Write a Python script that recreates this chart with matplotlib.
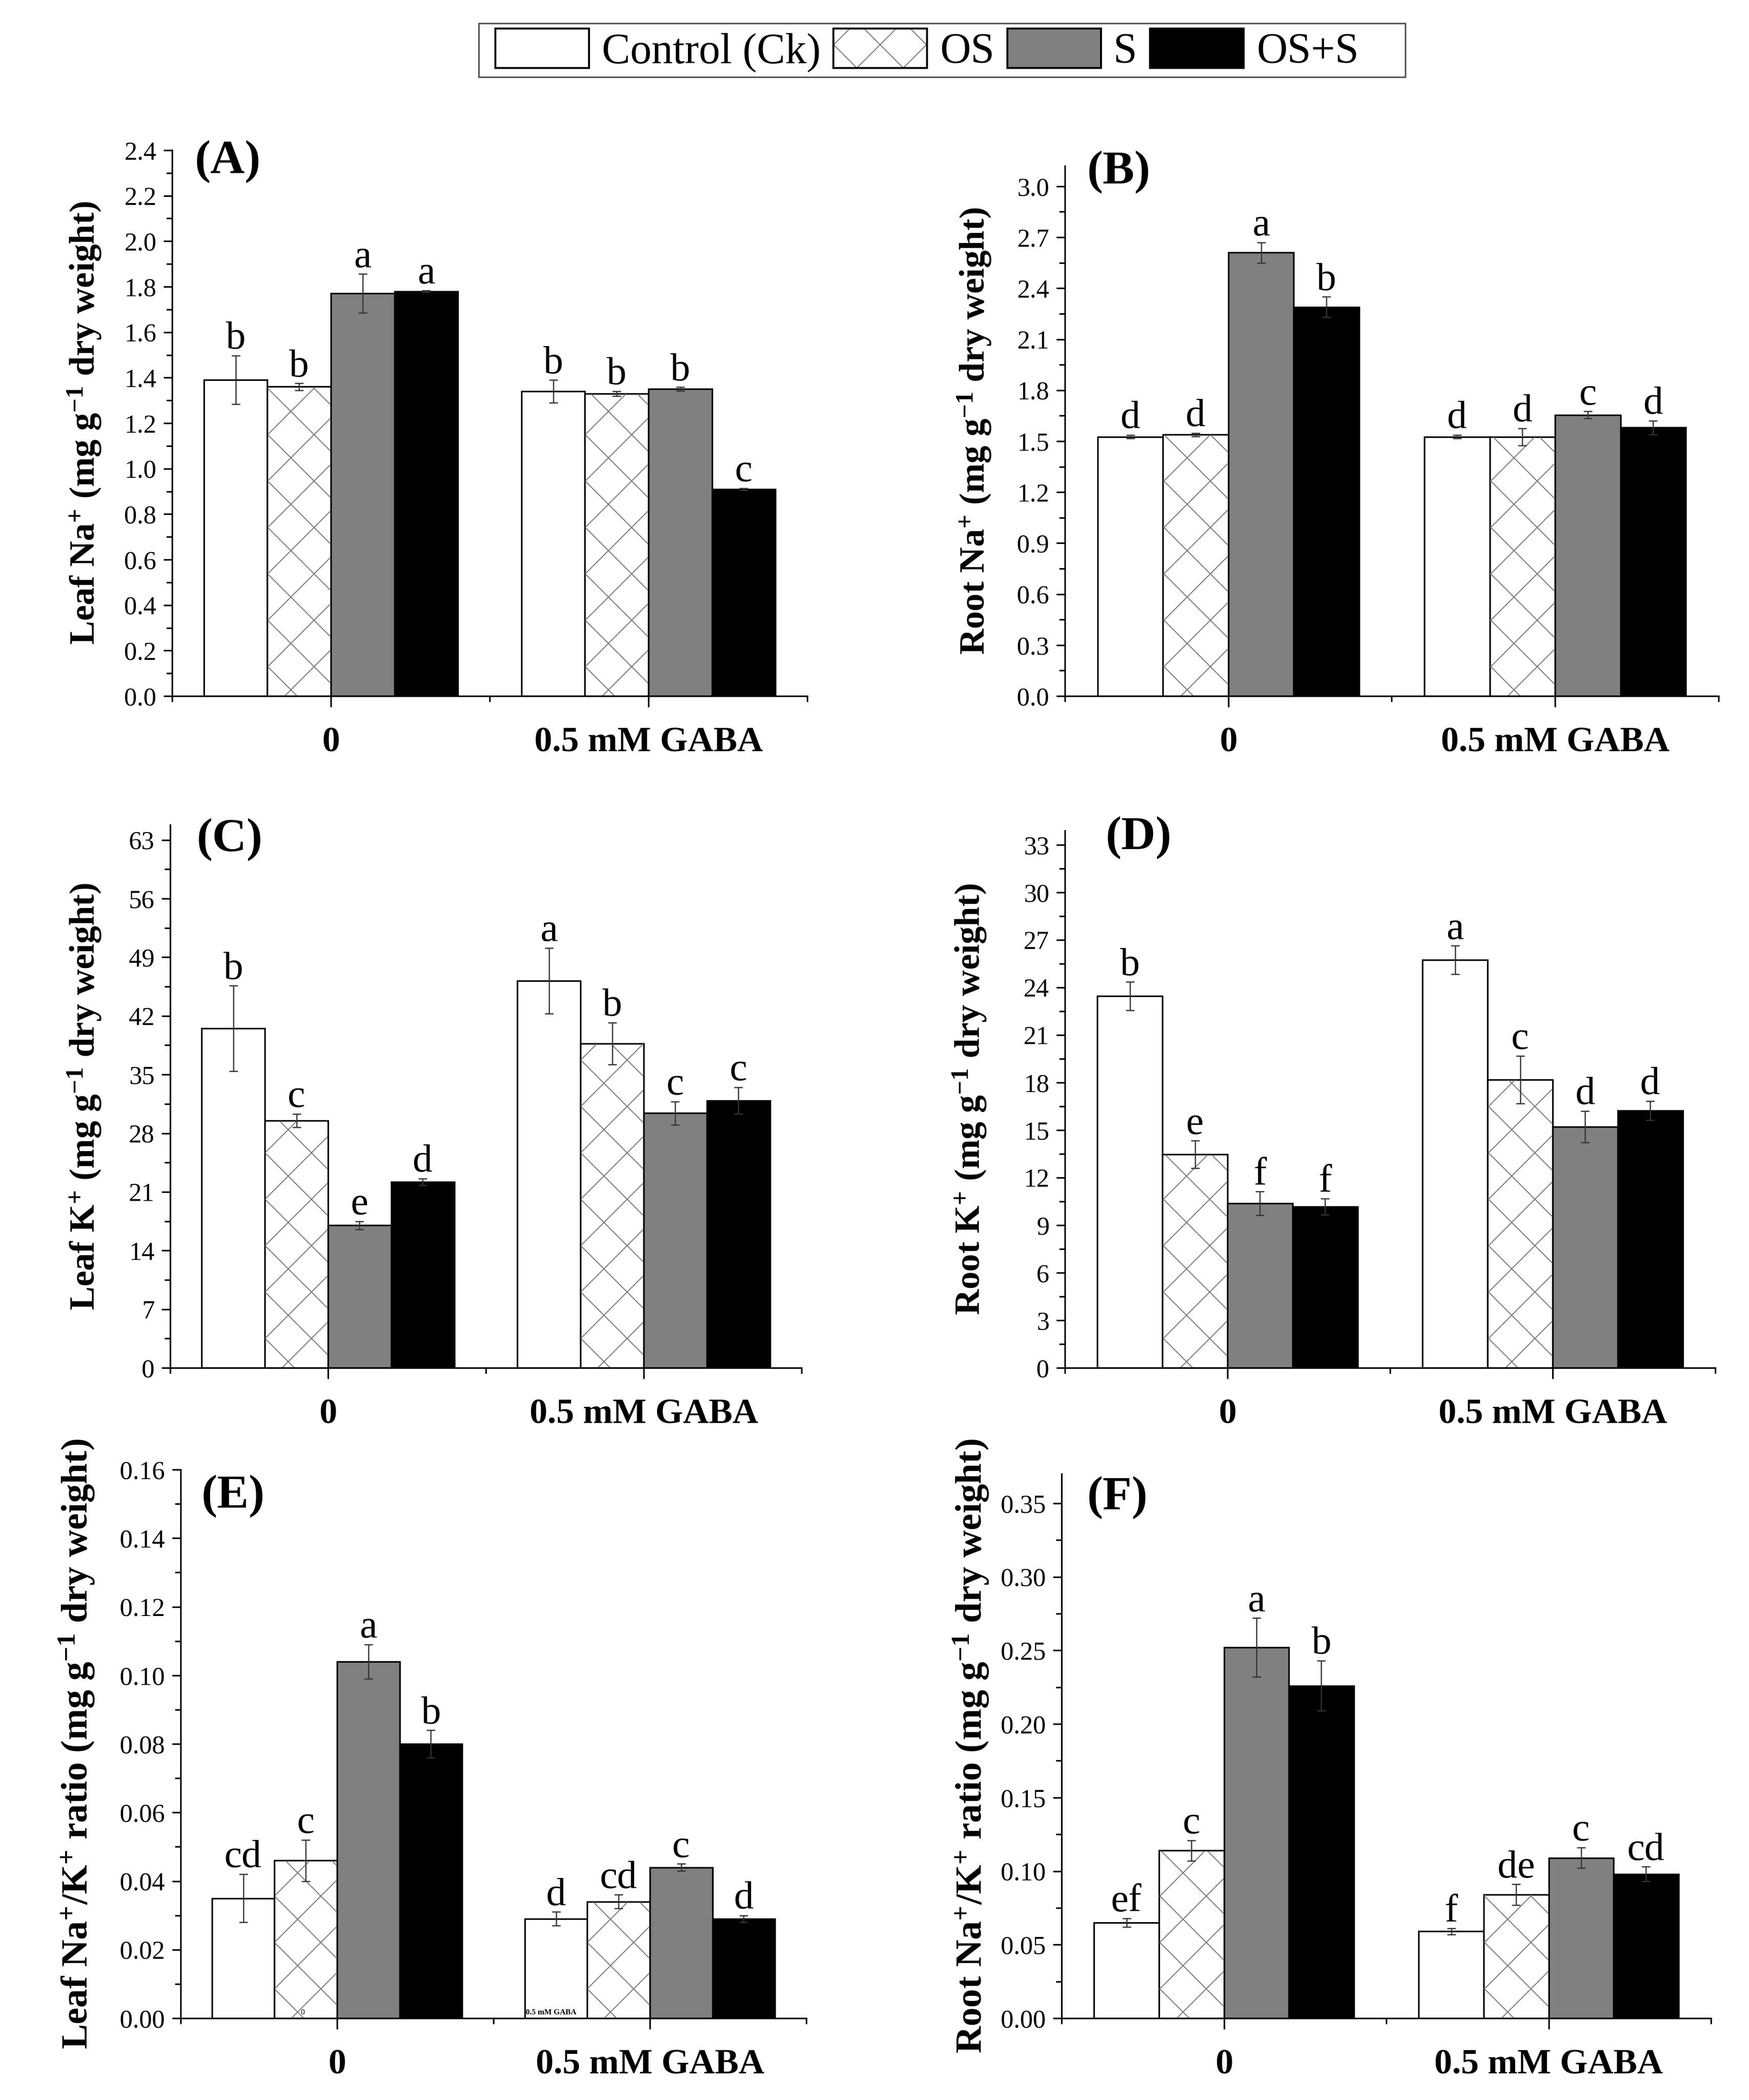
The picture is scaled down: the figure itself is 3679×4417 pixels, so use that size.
import matplotlib
matplotlib.use("Agg")
import matplotlib.pyplot as plt
import numpy as np
from matplotlib.patches import Patch, Rectangle
from matplotlib.collections import LineCollection
from matplotlib.legend_handler import HandlerBase
from matplotlib.ticker import MultipleLocator, FormatStrFormatter
from matplotlib.transforms import IdentityTransform

plt.rcParams["font.family"] = ["Liberation Serif", "DejaVu Serif"]
plt.rcParams["mathtext.default"] = "regular"

W, H, DPI = 3679, 4417, 300

# ---- data ----
treatments = ["Control (Ck)", "OS", "S", "OS+S"]
groups = ["0", "0.5 mM GABA"]

leaf_na = [[1.39, 1.36, 1.77, 1.78], [1.34, 1.33, 1.35, 0.91]]
leaf_na_err = [[0.107, 0.015, 0.086, 0.004], [0.05, 0.01, 0.008, 0.004]]
leaf_na_let = [["b", "b", "a", "a"], ["b", "b", "b", "c"]]

root_na = [[1.526, 1.538, 2.61, 2.29], [1.526, 1.526, 1.655, 1.58]]
root_na_err = [[0.01, 0.01, 0.06, 0.06], [0.01, 0.05, 0.02, 0.04]]
root_na_let = [["d", "d", "a", "b"], ["d", "d", "c", "d"]]

leaf_k = [[40.5, 29.5, 17.0, 22.2], [46.2, 38.7, 30.4, 31.9]]
leaf_k_err = [[5.1, 0.8, 0.5, 0.4], [3.9, 2.5, 1.4, 1.6]]
leaf_k_let = [["b", "c", "e", "d"], ["a", "b", "c", "c"]]

root_k = [[23.45, 13.47, 10.38, 10.17], [25.73, 18.19, 15.21, 16.23]]
root_k_err = [[0.9, 0.86, 0.75, 0.5], [0.9, 1.5, 1.0, 0.6]]
root_k_let = [["b", "e", "f", "f"], ["a", "c", "d", "d"]]

leaf_ratio = [[0.035, 0.046, 0.104, 0.080], [0.029, 0.034, 0.044, 0.029]]
leaf_ratio_err = [[0.007, 0.006, 0.005, 0.004], [0.002, 0.002, 0.001, 0.001]]
leaf_ratio_let = [["cd", "c", "a", "b"], ["d", "cd", "c", "d"]]

root_ratio = [[0.065, 0.114, 0.252, 0.226], [0.059, 0.084, 0.109, 0.098]]
root_ratio_err = [[0.003, 0.007, 0.02, 0.017], [0.002, 0.007, 0.007, 0.005]]
root_ratio_let = [["ef", "c", "a", "b"], ["f", "de", "c", "cd"]]

# ---- style ----
COLORS = ["white", "white", "#808080", "black"]
HATCH_COLOR = "#7a7a7a"
HATCH_PX = 97.6          # hatch period in pixels
HATCH_LW = 0.5
BAR_W = 0.2
OFFS = [-0.3, -0.1, 0.1, 0.3]


def diag_segments(x0, y0, x1, y1, period, px, py):
    segs = []
    # y = x + c
    base = py - px
    k = np.floor((y0 - x1 - base) / period)
    c = base + k * period
    while c <= y1 - x0:
        xa, xb = max(x0, y0 - c), min(x1, y1 - c)
        if xb > xa:
            segs.append([(xa, xa + c), (xb, xb + c)])
        c += period
    # y = -x + c
    base = py + px
    k = np.floor((x0 + y0 - base) / period)
    c = base + k * period
    while c <= x1 + y1:
        xa, xb = max(x0, c - y1), min(x1, c - y0)
        if xb > xa:
            segs.append([(xa, c - xa), (xb, c - xb)])
        c += period
    return segs


class HatchHandler(HandlerBase):
    def create_artists(self, legend, orig_handle, xdescent, ydescent,
                       width, height, fontsize, trans):
        x0, y0 = -xdescent, -ydescent
        period = HATCH_PX / DPI * 72
        face = Rectangle((x0, y0), width, height, facecolor="white",
                         edgecolor="none", transform=trans)
        segs = diag_segments(x0, y0, x0 + width, y0 + height, period,
                             x0 + width * 0.25, y0)
        lc = LineCollection(segs, colors=HATCH_COLOR, linewidths=HATCH_LW,
                            transform=trans)
        edge = Rectangle((x0, y0), width, height, fill=False,
                         edgecolor="black", lw=1.0, transform=trans)
        return [face, lc, edge]


def px_rect(l, t, r, b):
    return [l / W, 1 - b / H, (r - l) / W, (b - t) / H]


def panel(rect, vals, errs, lets, ylim, ystep, fmt, ylabel, ylab_px,
          ylab_fs, tag, tag_px):
    ax = fig.add_axes(px_rect(*rect))
    vals = np.array(vals)
    errs = np.array(errs)
    gx = np.arange(1, len(groups) + 1)
    ax.set_xlim(0.5, 2.5)
    ax.set_ylim(0, ylim)

    bars = []
    for j in range(len(treatments)):
        b = ax.bar(gx + OFFS[j], vals[:, j], width=BAR_W, color=COLORS[j],
                   edgecolor="black", linewidth=0.8, zorder=1)
        bars.append(b)

    # hatch for OS bars drawn in pixel space
    for r in bars[1]:
        bb = r.get_window_extent()
        segs = diag_segments(bb.x0 + 1, bb.y0, bb.x1 - 1, bb.y1 - 1, HATCH_PX,
                             bb.x0 + 0.37 * bb.width, bb.y0 + 13)
        lc = LineCollection(segs, colors=HATCH_COLOR, linewidths=HATCH_LW,
                            transform=IdentityTransform(), zorder=1.5)
        ax.add_collection(lc, autolim=False)

    for j in range(len(treatments)):
        ax.errorbar(gx + OFFS[j], vals[:, j], yerr=errs[:, j], fmt="none",
                    ecolor="#333333", elinewidth=0.6, capsize=2.2,
                    capthick=0.6, zorder=3)
        for i in range(len(groups)):
            ax.annotate(lets[i][j], xy=(gx[i] + OFFS[j], vals[i, j] + errs[i, j]),
                        xytext=(0, 3.5), textcoords="offset points",
                        ha="center", va="baseline", fontsize=20)

    for s in ["top", "right"]:
        ax.spines[s].set_visible(False)
    for s in ["left", "bottom"]:
        ax.spines[s].set_linewidth(0.8)

    ax.set_xticks(gx)
    ax.set_xticklabels(groups, fontsize=18, fontweight="bold")
    ax.xaxis.set_minor_locator(MultipleLocator(0.5))
    ax.tick_params(axis="x", which="major", direction="out", length=5.5,
                   width=0.8, pad=10)
    ax.tick_params(axis="x", which="minor", direction="out", length=2.8,
                   width=0.8)

    ax.yaxis.set_major_locator(MultipleLocator(ystep))
    ax.yaxis.set_minor_locator(MultipleLocator(ystep / 2))
    ax.yaxis.set_major_formatter(FormatStrFormatter(fmt))
    ax.tick_params(axis="y", which="major", direction="out", length=4.4,
                   width=0.8, labelsize=13)
    ax.tick_params(axis="y", which="minor", direction="out", length=2.8,
                   width=0.8)

    ax.set_ylabel(ylabel, fontsize=ylab_fs, fontweight="bold", va="center")
    l, t, r_, b_ = rect
    ax.yaxis.set_label_coords((ylab_px - l) / (r_ - l), 0.5)

    fig.text(tag_px[0] / W, 1 - tag_px[1] / H, tag, fontsize=24,
             fontweight="bold", ha="left", va="center")
    return ax


fig = plt.figure(figsize=(W / DPI, H / DPI), dpi=DPI)
fig.patch.set_facecolor("white")

unit = " (mg g$^{-1}$ dry weight)"
panel((362, 316, 1698, 1464), leaf_na, leaf_na_err, leaf_na_let, 2.4, 0.2,
      "%.1f", "Leaf Na$^{+}$" + unit, 178, 18, "(A)", (410, 340))
panel((2240, 349, 3615, 1464), root_na, root_na_err, root_na_let, 3.12, 0.3,
      "%.1f", "Root Na$^{+}$" + unit, 2050, 18, "(B)", (2287, 362))
panel((358, 1735, 1686, 2877), leaf_k, leaf_k_err, leaf_k_let, 64.8, 7,
      "%d", "Leaf K$^{+}$" + unit, 178, 18, "(C)", (414, 1766))
panel((2240, 1747, 3608, 2877), root_k, root_k_err, root_k_let, 33.9, 3,
      "%d", "Root K$^{+}$" + unit, 2040, 18, "(D)", (2326, 1762))
axE = panel((380, 3091, 1696, 4245), leaf_ratio, leaf_ratio_err, leaf_ratio_let,
            0.16, 0.02, "%.2f", "Leaf Na$^{+}$/K$^{+}$ ratio" + unit, 162, 19,
            "(E)", (424, 3147))
panel((2233, 3100, 3599, 4245), root_ratio, root_ratio_err, root_ratio_let,
      0.37, 0.05, "%.2f", "Root Na$^{+}$/K$^{+}$ ratio" + unit, 2043, 19,
      "(F)", (2287, 3150))

# stray tiny labels inside panel E (present in the original)
axE.text(0.89, 0.0006, groups[0], fontsize=4, ha="center", va="bottom")
axE.text(1.685, 0.0006, groups[1], fontsize=4, fontweight="bold",
         ha="center", va="bottom")

# ---- legend ----
handles = [Patch(facecolor=COLORS[0], edgecolor="black"),
           Patch(facecolor="white", edgecolor="black"),
           Patch(facecolor=COLORS[2], edgecolor="black"),
           Patch(facecolor=COLORS[3], edgecolor="black")]
fig.legend(handles, treatments, loc="center", ncol=4,
           bbox_to_anchor=(1950 / W, 1 - 106 / H), frameon=False,
           fontsize=21.5, handlelength=2.2, handleheight=1.04,
           handletextpad=0.3, columnspacing=0.3, borderpad=0,
           handler_map={handles[1]: HatchHandler()})
fig.add_artist(Rectangle((1007 / W, 1 - 162 / H), (2956 - 1007) / W,
                         (162 - 49) / H, transform=fig.transFigure,
                         fill=False, edgecolor="#555555", lw=0.8))

fig.savefig("out.png", dpi=DPI)
